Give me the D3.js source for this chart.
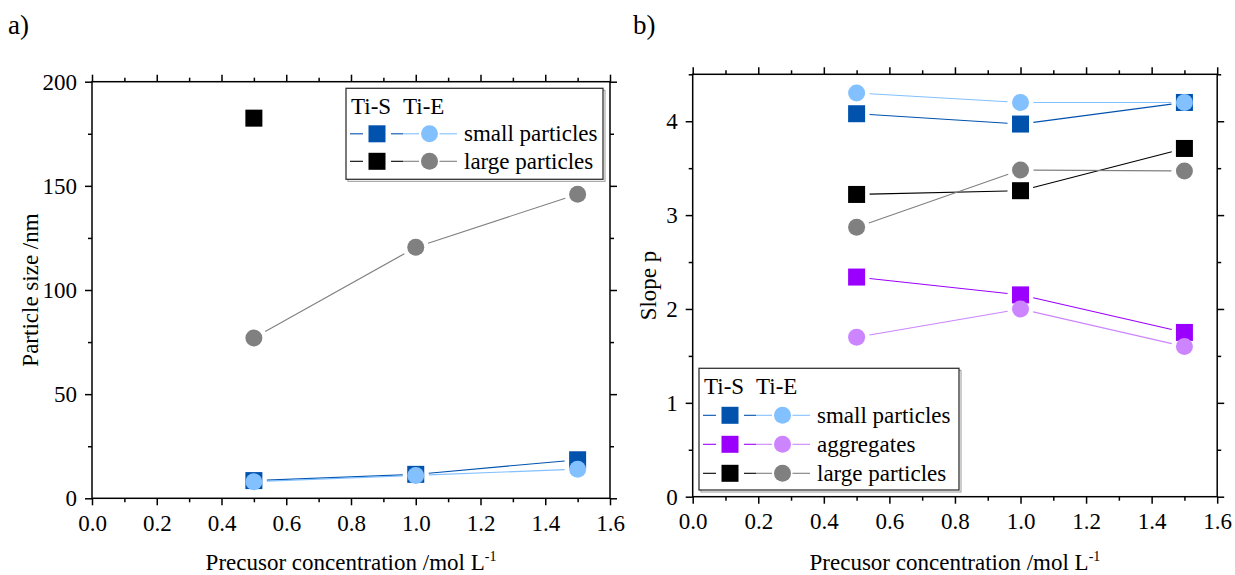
<!DOCTYPE html>
<html>
<head>
<meta charset="utf-8">
<script src="https://cdn.jsdelivr.net/npm/d3@7"></script>
<style>
  body { margin: 0; background: #fff; }
  svg { display: block; }
</style>
</head>
<body>
<div id="chart"></div>
<script>
// x values shared by every series
var concentration = [0.5, 1.0, 1.5];

// panel a) particle size /nm
var sizeSmallTiS = [8.5, 11.5, 18.5];
var sizeSmallTiE = [8, 11, 14];
var sizeLargeTiS = [182.5, null, null];
var sizeLargeTiE = [77, 120.5, 146];

// panel b) slope p
var slopeSmallTiS = [4.08, 3.97, 4.20];
var slopeSmallTiE = [4.30, 4.20, 4.20];
var slopeAggTiS = [2.34, 2.15, 1.75];
var slopeAggTiE = [1.70, 2.00, 1.60];
var slopeLargeTiS = [3.22, 3.26, 3.71];
var slopeLargeTiE = [2.87, 3.48, 3.47];

// ticks
var xTicks = [0, 0.2, 0.4, 0.6, 0.8, 1.0, 1.2, 1.4, 1.6];
var xMinor = [0.1, 0.3, 0.5, 0.7, 0.9, 1.1, 1.3, 1.5];
var sizeTicks = [0, 50, 100, 150, 200];
var sizeMinor = [25, 75, 125, 175];
var slopeTicks = [0, 1, 2, 3, 4];
var slopeMinor = [0.5, 1.5, 2.5, 3.5, 4.5];

var legendHeader = ['Ti-S', 'Ti-E'];
var labelsA = ['small particles', 'large particles'];
var labelsB = ['small particles', 'aggregates', 'large particles'];

/****************************
  * Style
  ***************************/
var color = {
    blue: '#0052ad', lightBlue: '#82c0ff',
    purple: '#9b00ff', lilac: '#cc85ff',
    black: '#000000', gray: '#808080'
};
var fontFamily = "'Liberation Serif'";
var fontSize = 23;
var squareSize = 17;
var circleR = 8.5;
var lineGap = 13;   // lines stop short of the markers

var svg = d3.select('#chart').append('svg')
    .attr('width', 1235)
    .attr('height', 575)
    .style('font-family', fontFamily);

// adds a text element in the chart font
function label(g, size) {
    return g.append('text')
        .style('font-family', fontFamily)
        .style('font-size', size + 'px')
        .style('fill', '#000');
}

/****************************
  * Helpers
  ***************************/

// draws frame with ticks on all four sides
function drawAxes(g, x, y, box, yt, ym, yFmt) {
    var axes = [
        [d3.axisBottom(x).tickValues(xTicks).tickSize(7).tickPadding(9).tickFormat(d3.format('.1f')), 0, box.y1],
        [d3.axisBottom(x).tickValues(xMinor).tickSize(4).tickFormat(''), 0, box.y1],
        [d3.axisTop(x).tickValues(xTicks).tickSize(7).tickFormat(''), 0, box.y0],
        [d3.axisTop(x).tickValues(xMinor).tickSize(4).tickFormat(''), 0, box.y0],
        [d3.axisLeft(y).tickValues(yt).tickSize(7).tickPadding(8).tickFormat(yFmt), box.x0, 0],
        [d3.axisLeft(y).tickValues(ym).tickSize(4).tickFormat(''), box.x0, 0],
        [d3.axisRight(y).tickValues(yt).tickSize(7).tickFormat(''), box.x1, 0],
        [d3.axisRight(y).tickValues(ym).tickSize(4).tickFormat(''), box.x1, 0]
    ];
    axes.forEach(function(a) {
        var ag = g.append('g')
            .attr('transform', 'translate(' + a[1] + ',' + a[2] + ')')
            .call(a[0].tickSizeOuter(0));
        ag.attr('font-family', null).attr('font-size', null);
        ag.select('.domain').remove();
        ag.selectAll('line').style('stroke', '#000').style('stroke-width', 1.5);
        ag.selectAll('text')
            .style('font-family', fontFamily)
            .style('font-size', fontSize + 'px')
            .style('fill', '#000');
    });
    g.append('rect')
        .attr('x', box.x0).attr('y', box.y0)
        .attr('width', box.x1 - box.x0).attr('height', box.y1 - box.y0)
        .style('fill', 'none').style('stroke', '#000').style('stroke-width', 1.5);
}

function points(x, y, values) {
    return concentration.map(function(c, i) {
        return values[i] == null ? null : [x(c), y(values[i])];
    });
}

function drawLine(g, pts, stroke) {
    for (var i = 1; i < pts.length; i++) {
        var a = pts[i - 1], b = pts[i];
        if (!a || !b) continue;
        var dx = b[0] - a[0], dy = b[1] - a[1];
        var len = Math.sqrt(dx * dx + dy * dy);
        var ux = dx / len, uy = dy / len;
        g.append('line')
            .attr('x1', a[0] + ux * lineGap).attr('y1', a[1] + uy * lineGap)
            .attr('x2', b[0] - ux * lineGap).attr('y2', b[1] - uy * lineGap)
            .style('stroke', stroke).style('stroke-width', 1.1);
    }
}

function drawMarker(g, px, py, shape, fill) {
    if (shape === 'square') {
        g.append('rect')
            .attr('x', px - squareSize / 2).attr('y', py - squareSize / 2)
            .attr('width', squareSize).attr('height', squareSize)
            .style('fill', fill);
    } else {
        g.append('circle')
            .attr('cx', px).attr('cy', py).attr('r', circleR)
            .style('fill', fill);
    }
}

function drawSeries(g, x, y, series) {
    series.forEach(function(s) { drawLine(g, points(x, y, s.values), s.color); });
    ['square', 'circle'].forEach(function(shape) {
        series.filter(function(s) { return s.shape === shape; }).forEach(function(s) {
            points(x, y, s.values).forEach(function(p) {
                if (p) drawMarker(g, p[0], p[1], shape, s.color);
            });
        });
    });
}

// legend: header row, then one row per label with Ti-S square and Ti-E circle
function drawLegend(g, lx, ly, w, h, rowGap, labels, pairs) {
    g.append('rect').attr('x', lx + 2).attr('y', ly + 2).attr('width', w).attr('height', h)
        .style('fill', 'none').style('stroke', '#999').style('stroke-width', 1);
    g.append('rect').attr('x', lx).attr('y', ly).attr('width', w).attr('height', h)
        .style('fill', '#fff').style('stroke', '#333').style('stroke-width', 1.3);

    var headerY = ly + 18;
    label(g, fontSize).attr('x', lx + 5).attr('y', headerY).attr('dy', '0.35em').text(legendHeader[0]);
    label(g, fontSize).attr('x', lx + 57).attr('y', headerY).attr('dy', '0.35em').text(legendHeader[1]);

    labels.forEach(function(text, i) {
        var ry = headerY + rowGap * (i + 1);
        var dark = pairs[i][0], light = pairs[i][1];
        var seg = function(x1, x2, c) {
            g.append('line').attr('x1', lx + x1).attr('x2', lx + x2).attr('y1', ry).attr('y2', ry)
                .style('stroke', c).style('stroke-width', 1.1);
        };
        seg(4, 17, dark);
        drawMarker(g, lx + 31, ry, 'square', dark);
        seg(45, 57, dark);
        seg(57, 73, light);
        drawMarker(g, lx + 83.5, ry, 'circle', light);
        seg(93.5, 111, light);
        label(g, fontSize).attr('x', lx + 118).attr('y', ry).attr('dy', '0.32em').text(text);
    });
}

function xTitle(g, cx) {
    var t = label(g, fontSize).attr('x', cx).attr('y', 570).attr('text-anchor', 'middle');
    t.append('tspan').text('Precusor concentration /mol L');
    t.append('tspan').attr('dy', -9).style('font-size', '14px').text('-1');
}

function yTitle(g, bx, cy, text) {
    label(g, fontSize)
        .attr('transform', 'translate(' + bx + ',' + cy + ') rotate(-90)')
        .attr('text-anchor', 'middle')
        .text(text);
}

/****************************
  * Panel a)
  ***************************/
var boxA = { x0: 92, x1: 610, y0: 81.7, y1: 498.3 };
var xA = d3.scaleLinear().domain([0, 1.6]).range([boxA.x0, boxA.x1]);
var yA = d3.scaleLinear().domain([0, 200]).range([boxA.y1, boxA.y0]);
var gA = svg.append('g');

drawAxes(gA, xA, yA, boxA, sizeTicks, sizeMinor, d3.format('d'));
drawSeries(gA, xA, yA, [
    { values: sizeSmallTiS, shape: 'square', color: color.blue },
    { values: sizeLargeTiS, shape: 'square', color: color.black },
    { values: sizeSmallTiE, shape: 'circle', color: color.lightBlue },
    { values: sizeLargeTiE, shape: 'circle', color: color.gray }
]);
drawLegend(gA, 346, 88.3, 257, 91, 27.5, labelsA,
    [[color.blue, color.lightBlue], [color.black, color.gray]]);
xTitle(gA, (boxA.x0 + boxA.x1) / 2);
yTitle(gA, 38, (boxA.y0 + boxA.y1) / 2, 'Particle size /nm');
label(gA, 27).attr('x', 8).attr('y', 34).text('a)');

/****************************
  * Panel b)
  ***************************/
var boxB = { x0: 692.7, x1: 1217.2, y0: 74.3, y1: 496.7 };
var xB = d3.scaleLinear().domain([0, 1.6]).range([boxB.x0, boxB.x1]);
var yB = d3.scaleLinear().domain([0, 4.5]).range([boxB.y1, boxB.y0]);
var gB = svg.append('g');

drawAxes(gB, xB, yB, boxB, slopeTicks, slopeMinor, d3.format('d'));
drawSeries(gB, xB, yB, [
    { values: slopeSmallTiS, shape: 'square', color: color.blue },
    { values: slopeAggTiS, shape: 'square', color: color.purple },
    { values: slopeLargeTiS, shape: 'square', color: color.black },
    { values: slopeSmallTiE, shape: 'circle', color: color.lightBlue },
    { values: slopeAggTiE, shape: 'circle', color: color.lilac },
    { values: slopeLargeTiE, shape: 'circle', color: color.gray }
]);
drawLegend(gB, 699, 368.3, 260, 121.7, 29, labelsB,
    [[color.blue, color.lightBlue], [color.purple, color.lilac], [color.black, color.gray]]);
xTitle(gB, (boxB.x0 + boxB.x1) / 2);
yTitle(gB, 656, (boxB.y0 + boxB.y1) / 2, 'Slope p');
label(gB, 27).attr('x', 633).attr('y', 34).text('b)');
</script>
</body>
</html>
